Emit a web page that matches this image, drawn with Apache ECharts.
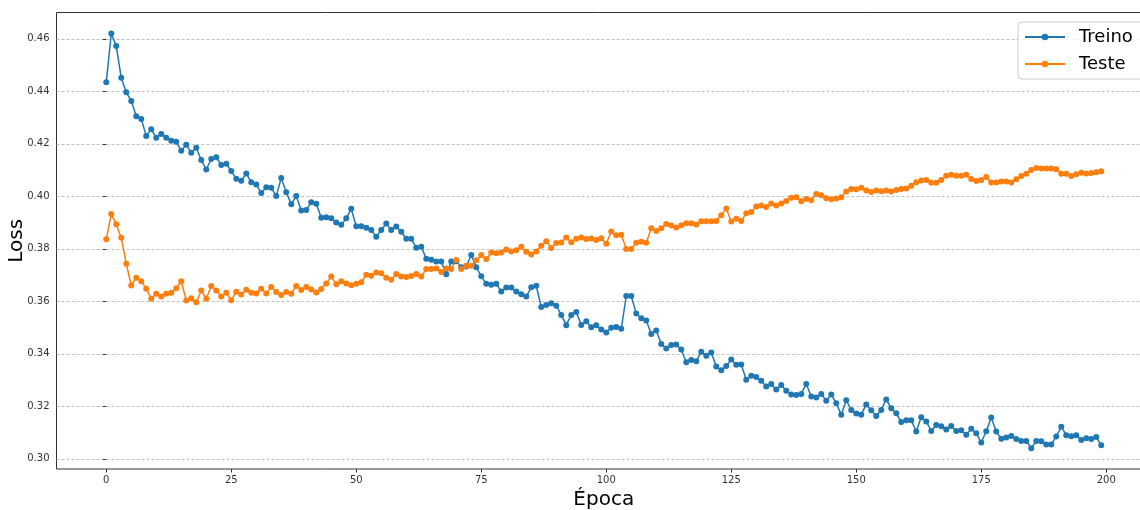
<!DOCTYPE html>
<html>
<head>
<meta charset="utf-8">
<script src="https://cdn.jsdelivr.net/npm/echarts@6/dist/echarts.min.js"></script>
<style>
html,body{margin:0;padding:0;background:#fff;}
#chart{width:1140px;height:510px;}
</style>
</head>
<body>
<div id="chart"></div>
<script>
const seriesNames = ['Treino', 'Teste'];
const xTicks = [0, 25, 50, 75, 100, 125, 150, 175, 200];
const yTicks = [0.30, 0.32, 0.34, 0.36, 0.38, 0.40, 0.42, 0.44, 0.46];
const xAxisName = 'Época';
const yAxisName = 'Loss';

const treino = [
0.4434,0.4620,0.4572,0.4451,0.4396,0.4363,0.4305,0.4294,0.4230,0.4255,
0.4223,0.4237,0.4223,0.4211,0.4208,0.4173,0.4196,0.4166,0.4185,0.4138,
0.4102,0.4142,0.4149,0.4119,0.4124,0.4096,0.4067,0.4059,0.4087,0.4053,
0.4045,0.4012,0.4034,0.4032,0.4001,0.4070,0.4015,0.3970,0.4001,0.3946,
0.3948,0.3977,0.3971,0.3918,0.3920,0.3916,0.3900,0.3891,0.3916,0.3952,
0.3886,0.3886,0.3880,0.3871,0.3846,0.3871,0.3896,0.3871,0.3885,0.3865,
0.3838,0.3838,0.3804,0.3808,0.3762,0.3758,0.3751,0.3751,0.3703,0.3751,
0.3752,0.3730,0.3732,0.3776,0.3730,0.3695,0.3667,0.3663,0.3667,0.3637,
0.3652,0.3652,0.3637,0.3627,0.3618,0.3653,0.3659,0.3578,0.3586,0.3592,
0.3583,0.3548,0.3509,0.3548,0.3559,0.3510,0.3524,0.3501,0.3509,0.3492,
0.3481,0.3499,0.3502,0.3495,0.3620,0.3620,0.3553,0.3535,0.3527,0.3475,
0.3489,0.3437,0.3420,0.3433,0.3435,0.3416,0.3368,0.3376,0.3371,0.3408,
0.3392,0.3405,0.3351,0.3337,0.3353,0.3378,0.3358,0.3359,0.3301,0.3316,
0.3311,0.3297,0.3275,0.3285,0.3264,0.3281,0.3259,0.3245,0.3243,0.3247,
0.3285,0.3237,0.3233,0.3247,0.3221,0.3245,0.3211,0.3168,0.3223,0.3186,
0.3172,0.3168,0.3207,0.3185,0.3163,0.3186,0.3226,0.3192,0.3173,0.3140,
0.3147,0.3147,0.3104,0.3158,0.3142,0.3106,0.3129,0.3124,0.3111,0.3125,
0.3106,0.3109,0.3091,0.3114,0.3097,0.3062,0.3105,0.3157,0.3104,0.3076,
0.3081,0.3087,0.3075,0.3068,0.3068,0.3040,0.3068,0.3067,0.3054,0.3054,
0.3085,0.3122,0.3090,0.3086,0.3090,0.3071,0.3078,0.3075,0.3083,0.3051
];

const teste = [
0.3836,0.3932,0.3893,0.3842,0.3743,0.3660,0.3690,0.3676,0.3648,0.3610,
0.3629,0.3618,0.3629,0.3632,0.3650,0.3676,0.3603,0.3611,0.3596,0.3641,
0.3610,0.3658,0.3641,0.3618,0.3632,0.3604,0.3636,0.3626,0.3644,0.3632,
0.3630,0.3648,0.3630,0.3654,0.3635,0.3624,0.3635,0.3629,0.3658,0.3643,
0.3654,0.3645,0.3633,0.3647,0.3668,0.3694,0.3665,0.3676,0.3668,0.3661,
0.3667,0.3672,0.3701,0.3697,0.3710,0.3707,0.3690,0.3682,0.3704,0.3694,
0.3692,0.3696,0.3704,0.3694,0.3723,0.3723,0.3725,0.3711,0.3725,0.3723,
0.3757,0.3723,0.3735,0.3735,0.3756,0.3776,0.3761,0.3786,0.3783,0.3786,
0.3797,0.3790,0.3794,0.3808,0.3789,0.3778,0.3790,0.3811,0.3829,0.3803,
0.3822,0.3824,0.3843,0.3825,0.3838,0.3843,0.3837,0.3839,0.3833,0.3840,
0.3819,0.3866,0.3851,0.3853,0.3799,0.3799,0.3823,0.3827,0.3823,0.3878,
0.3868,0.3878,0.3894,0.3889,0.3881,0.3890,0.3897,0.3897,0.3892,0.3905,
0.3905,0.3905,0.3906,0.3928,0.3953,0.3904,0.3914,0.3906,0.3935,0.3940,
0.3961,0.3965,0.3959,0.3972,0.3965,0.3972,0.3982,0.3994,0.3996,0.3981,
0.3990,0.3985,0.4009,0.4004,0.3992,0.3989,0.3991,0.3996,0.4018,0.4028,
0.4027,0.4032,0.4022,0.4016,0.4022,0.4019,0.4022,0.4018,0.4024,0.4028,
0.4030,0.4040,0.4053,0.4060,0.4062,0.4051,0.4051,0.4062,0.4078,0.4082,
0.4078,0.4078,0.4082,0.4066,0.4058,0.4062,0.4073,0.4052,0.4052,0.4056,
0.4056,0.4052,0.4065,0.4077,0.4086,0.4100,0.4108,0.4106,0.4106,0.4106,
0.4103,0.4086,0.4086,0.4077,0.4084,0.4090,0.4087,0.4089,0.4091,0.4095
];

const colors = ['#1f77b4', '#ff7f0e'];
const toPairs = arr => arr.map((v, i) => [i, v]);

const chart = echarts.init(document.getElementById('chart'), null, {renderer: 'canvas'});
const tickLabelStyle = {color: '#333', fontSize: 10, fontFamily: 'DejaVu Sans'};

chart.setOption({
  animation: false,
  backgroundColor: '#fff',
  grid: {left: 56.5, top: 12.5, bottom: 41, right: -11, containLabel: false, outerBoundsMode: 'none',
         show: true, borderColor: '#333', borderWidth: 1, backgroundColor: 'transparent'},
  legend: {
    orient: 'vertical',
    left: 1018, top: 22,
    padding: [6, 20, 6, 6],
    itemGap: 9,
    itemWidth: 40, itemHeight: 8,
    backgroundColor: 'rgba(255,255,255,0.8)',
    borderColor: '#cccccc', borderWidth: 1, borderRadius: 4,
    textStyle: {fontSize: 18, fontFamily: 'DejaVu Sans', color: '#000', padding: [0, 0, 0, 9]},
    data: seriesNames
  },
  xAxis: {
    type: 'value', min: -9.95, max: 208.95,
    name: xAxisName, nameLocation: 'middle', nameGap: 21, nameMoveOverlap: false,
    nameTextStyle: {fontSize: 20, fontFamily: 'DejaVu Sans', color: '#000'},
    axisLine: {show: false},
    axisTick: {show: true, length: 3.5, lineStyle: {color: '#333'}, customValues: xTicks},
    axisLabel: Object.assign({margin: 6, customValues: xTicks}, tickLabelStyle),
    splitLine: {show: false}
  },
  yAxis: {
    type: 'value', min: 0.2961, max: 0.4700,
    name: yAxisName, nameLocation: 'middle', nameGap: 30, nameMoveOverlap: false,
    nameTextStyle: {fontSize: 20, fontFamily: 'DejaVu Sans', color: '#000'},
    axisLine: {show: false},
    axisTick: {show: true, length: 3.5, lineStyle: {color: '#333'}, customValues: yTicks},
    axisLabel: Object.assign({margin: 7, customValues: yTicks, formatter: v => v.toFixed(2)}, tickLabelStyle),
    splitLine: {show: true, lineStyle: {color: '#b0b0b0', width: 0.8, type: [3, 2]}}
  },
  series: [
    {name: seriesNames[0], type: 'line', data: toPairs(treino), color: colors[0],
     symbol: 'circle', symbolSize: 6, showAllSymbol: true, lineStyle: {width: 1.5}, itemStyle: {color: colors[0]}},
    {name: seriesNames[1], type: 'line', data: toPairs(teste), color: colors[1],
     symbol: 'circle', symbolSize: 6, showAllSymbol: true, lineStyle: {width: 1.5}, itemStyle: {color: colors[1]}}
  ]
});
</script>
</body>
</html>
